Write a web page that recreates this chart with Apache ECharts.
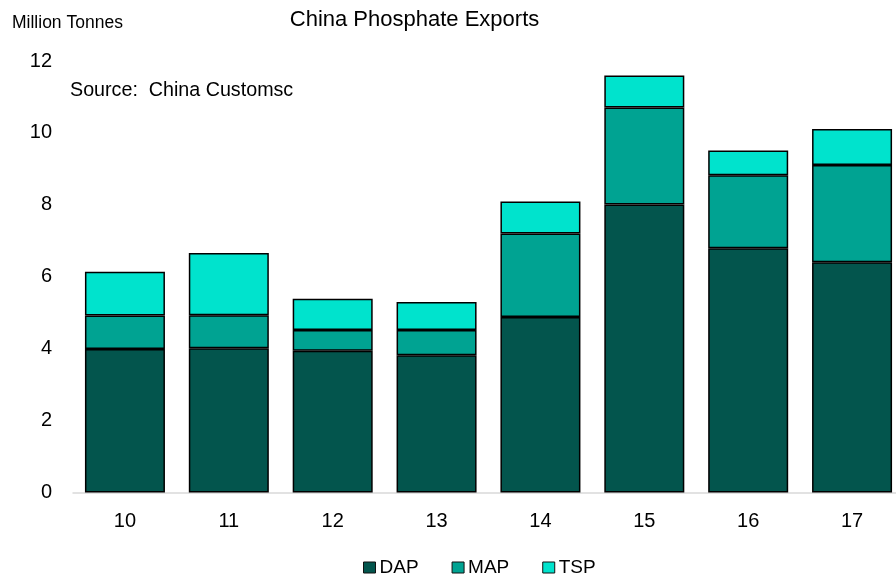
<!DOCTYPE html>
<html><head><meta charset="utf-8">
<script src="https://cdn.jsdelivr.net/npm/echarts@6/dist/echarts.min.js"></script>
<style>html,body{margin:0;padding:0;background:#fff}#c{width:896px;height:579px}</style>
</head><body><div id="c"></div>
<script>
const categories = ['10','11','12','13','14','15','16','17'];
const dap = [3.99, 4.01, 3.94, 3.82, 4.88, 8.01, 6.79, 6.40];
const map = [0.93, 0.92, 0.58, 0.70, 2.32, 2.70, 2.03, 2.71];
const tsp = [1.22, 1.73, 0.87, 0.78, 0.89, 0.89, 0.69, 1.00];
const seriesNames = ['DAP','MAP','TSP'];
const colors = ['#03554D','#00A392','#00E3CD'];
const yTicks = {min:0, max:12, interval:2};

const font = 'Liberation Sans, Arial, sans-serif';
const chart = echarts.init(document.getElementById('c'));
const mk = (name, data, i) => ({
  name, type:'bar', stack:'total', data, barWidth:80,
  itemStyle:{color:colors[i], borderColor:'#000', borderWidth:1.5},
  emphasis:{disabled:true}
});
chart.setOption({
  animation:false,
  textStyle:{fontFamily:font},
  title:[
    {text:'China Phosphate Exports', left:414.5, top:9, textAlign:'center', padding:0,
     textStyle:{fontSize:22, fontWeight:'normal', color:'#000', fontFamily:font}},
    {text:'Million Tonnes', left:12, top:14, padding:0,
     textStyle:{fontSize:17.5, fontWeight:'normal', color:'#000', fontFamily:font}},
    {text:'Source:  China Customsc', left:70, top:81, padding:0,
     textStyle:{fontSize:19.7, fontWeight:'normal', color:'#000', fontFamily:font}}
  ],
  legend:{
    data:seriesNames, left:363, top:558, padding:0, itemWidth:12, itemHeight:11, itemGap:33,
    icon:'rect',
    itemStyle:{borderColor:'#111', borderWidth:1},
    textStyle:{fontSize:19, color:'#000', fontFamily:font, padding:[0,0,0,-1]}
  },
  grid:{left:73, top:61, width:831, height:431.5, containLabel:false, outerBoundsMode:'none'},
  xAxis:{
    type:'category', data:categories,
    axisLine:{lineStyle:{color:'#d9d9d9', width:1.5}},
    axisTick:{show:false},
    axisLabel:{fontSize:20, color:'#000', margin:19, fontFamily:font}
  },
  yAxis:{
    type:'value', min:yTicks.min, max:yTicks.max, interval:yTicks.interval,
    splitLine:{show:false}, axisLine:{show:false}, axisTick:{show:false},
    axisLabel:{fontSize:20, color:'#000', margin:21, fontFamily:font}
  },
  series:[mk('DAP',dap,0), mk('MAP',map,1), mk('TSP',tsp,2)]
});
</script></body></html>
